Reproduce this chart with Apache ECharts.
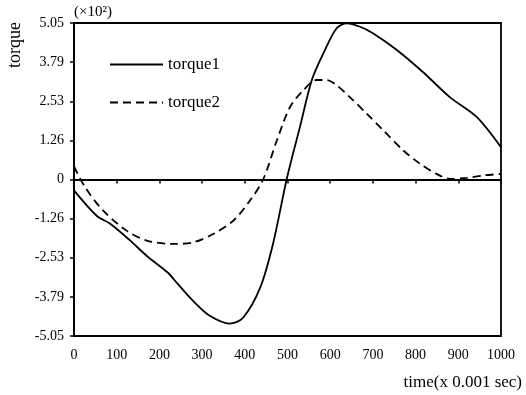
<!DOCTYPE html>
<html>
<head>
<meta charset="utf-8">
<script src="https://cdn.jsdelivr.net/npm/echarts@6/dist/echarts.min.js"></script>
<style>
  html, body { margin: 0; padding: 0; background: #fff; }
  #chart { width: 526px; height: 395px; }
</style>
</head>
<body>
<div id="chart"></div>
<script>
// values in units of x10^2
const time1 = [0, 53, 84, 130, 170, 220, 240, 279, 318, 365, 396, 436, 466, 498, 529, 557, 584, 615, 639, 670, 700, 756, 817, 880, 943, 1000];
const torque1 = [-0.35, -1.17, -1.42, -1.95, -2.46, -3.01, -3.32, -3.92, -4.40, -4.65, -4.46, -3.49, -2.08, 0, 1.69, 3.21, 4.07, 4.88, 5.04, 4.93, 4.72, 4.18, 3.47, 2.66, 2.02, 1.04];

const time2 = [0, 26, 68, 123, 170, 232, 279, 326, 373, 412, 443, 475, 506, 537, 568, 592, 615, 646, 685, 724, 771, 810, 849, 880, 920, 958, 1000];
const torque2 = [0.42, -0.25, -1.0, -1.65, -1.97, -2.08, -2.03, -1.76, -1.33, -0.68, 0, 1.26, 2.34, 2.88, 3.21, 3.21, 3.04, 2.66, 2.13, 1.59, 0.94, 0.51, 0.18, 0.02, 0.05, 0.13, 0.18];

const yTickLabels = ['-5.05', '-3.79', '-2.53', '-1.26', '0', '1.26', '2.53', '3.79', '5.05'];
const xTickLabels = ['0', '100', '200', '300', '400', '500', '600', '700', '800', '900', '1000'];

const FONT = '"Liberation Serif", "DejaVu Serif", serif';

const chart = echarts.init(document.getElementById('chart'));

chart.setOption({
  animation: false,
  backgroundColor: '#fff',
  textStyle: { fontFamily: FONT, color: '#000' },
  grid: {
    left: 74, right: 25, top: 23, bottom: 59,
    show: true, borderColor: '#000', borderWidth: 1.8
  },
  legend: {
    orient: 'vertical',
    left: 104, top: 51,
    itemWidth: 53, itemHeight: 17, itemGap: 21,
    itemStyle: { opacity: 0 },
    textStyle: { fontFamily: FONT, fontSize: 17, color: '#000' },
    data: ['torque1', 'torque2']
  },
  xAxis: {
    type: 'value',
    min: 0, max: 1000, interval: 100,
    axisLine: { lineStyle: { color: '#000', width: 1.8 } },
    axisTick: { inside: false, length: 4, lineStyle: { color: '#000', width: 1.5 } },
    axisLabel: {
      fontFamily: FONT, fontSize: 14, color: '#000', margin: 12,
      formatter: (v) => xTickLabels[Math.round(v / 100)]
    },
    splitLine: { show: false }
  },
  yAxis: {
    type: 'value',
    min: -5.05, max: 5.05, interval: 1.2625,
    name: '(×10²)',
    nameLocation: 'end',
    nameGap: 3,
    nameTextStyle: { fontFamily: FONT, fontSize: 15, color: '#000', align: 'left', padding: [0, 0, 0, 0] },
    axisLine: { lineStyle: { color: '#000', width: 1.8 } },
    axisTick: { inside: false, length: 4, lineStyle: { color: '#000', width: 1.5 } },
    axisLabel: {
      fontFamily: FONT, fontSize: 14, color: '#000', margin: 10,
      formatter: (v) => yTickLabels[Math.round((v + 5.05) / 1.2625)]
    },
    splitLine: { show: false }
  },
  graphic: [
    {
      type: 'text', left: 6, top: 22, rotation: Math.PI / 2,
      style: { text: 'torque', font: '18px ' + FONT, fill: '#000' }
    },
    {
      type: 'text', right: 4, top: 374,
      style: { text: 'time(x 0.001 sec)', font: '17px ' + FONT, fill: '#000' }
    }
  ],
  series: [
    {
      name: 'torque1',
      type: 'line',
      smooth: 0.3,
      symbol: 'none',
      lineStyle: { color: '#000', width: 1.8 },
      itemStyle: { color: '#000' },
      data: time1.map((t, i) => [t, torque1[i]]),
      markLine: {
        silent: true, symbol: 'none', label: { show: false },
        lineStyle: { color: '#000', width: 1.6, type: 'solid' },
        data: [{ yAxis: 0 }]
      }
    },
    {
      name: 'torque2',
      type: 'line',
      smooth: 0.3,
      symbol: 'none',
      lineStyle: { color: '#000', width: 1.8, type: [8, 5] },
      itemStyle: { color: '#000' },
      data: time2.map((t, i) => [t, torque2[i]])
    }
  ]
});
</script>
</body>
</html>
